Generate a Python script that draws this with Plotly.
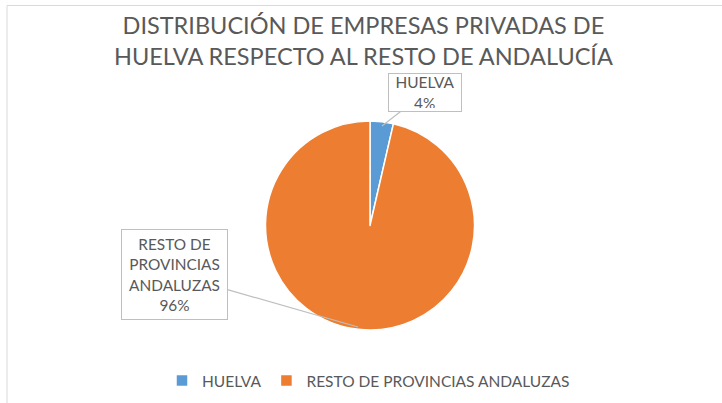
import plotly.graph_objects as go

# Datos del gráfico
title_lines = ["DISTRIBUCIÓN DE EMPRESAS PRIVADAS DE", "HUELVA RESPECTO AL RESTO DE ANDALUCÍA"]
labels = ["HUELVA", "RESTO DE PROVINCIAS ANDALUZAS"]
callout_labels = ["HUELVA", "RESTO DE<br>PROVINCIAS<br>ANDALUZAS"]
values = [3.6, 96.4]
colors = ["#5B9BD5", "#ED7D31"]

W, H = 722, 403
TEXT_COLOR = "#595959"
FONT = "Lato"


def px_x(x):
    return x / W


def px_y(y):
    return 1 - y / H


total = sum(values)
percents = [round(v / total * 100) for v in values]

fig = go.Figure()

# Pie chart
fig.add_trace(go.Pie(
    labels=labels,
    values=values,
    sort=False,
    direction="clockwise",
    rotation=0,
    marker=dict(colors=colors, line=dict(color="white", width=1.5)),
    textinfo="none",
    hoverinfo="label+percent",
    domain=dict(x=[px_x(200), px_x(540)], y=[px_y(330), px_y(121)]),
))

# Title
fig.add_annotation(
    x=px_x(363.5), y=px_y(41), xref="paper", yref="paper",
    xanchor="center", yanchor="middle",
    text="<br>".join(title_lines),
    showarrow=False,
    font=dict(family=FONT, size=23.5, color=TEXT_COLOR),
)

# Callout labels (box + leader line)
callouts = [
    dict(tip=(382, 126), box=(425, 92.5), size=(66, 31)),
    dict(tip=(358, 327), box=(174.5, 274.5), size=(99, 83)),
]
for i, c in enumerate(callouts):
    fig.add_annotation(
        x=px_x(c["tip"][0]), y=px_y(c["tip"][1]),
        xref="paper", yref="paper",
        ax=c["box"][0] - c["tip"][0], ay=c["box"][1] - c["tip"][1],
        text=f"{callout_labels[i]}<br>{percents[i]}%",
        showarrow=True, arrowhead=0, arrowwidth=1.2, arrowcolor="#BFBFBF",
        bordercolor="#BFBFBF", borderwidth=1, borderpad=3, bgcolor="white",
        width=c["size"][0], height=c["size"][1],
        font=dict(family=FONT, size=15.4, color=TEXT_COLOR),
        align="center",
    )

# Chart border (only top and left visible in the reference)
fig.add_shape(
    type="rect", xref="paper", yref="paper",
    x0=px_x(7), x1=1.05, y0=-0.05, y1=px_y(5.5),
    line=dict(color="#D9D9D9", width=1),
)

fig.update_layout(
    width=W, height=H,
    margin=dict(l=0, r=0, t=0, b=0),
    paper_bgcolor="white",
    plot_bgcolor="white",
    legend=dict(
        orientation="h",
        x=px_x(162), xanchor="left",
        y=px_y(381), yanchor="middle",
        itemwidth=30,
        font=dict(family=FONT, size=15.5, color=TEXT_COLOR),
    ),
    showlegend=True,
)

# page body has a default 8px margin; remove it so the figure sits at 0,0
fig.write_html(
    "out.html",
    config={"displayModeBar": False},
    post_script="document.body.style.margin='0';",
)
